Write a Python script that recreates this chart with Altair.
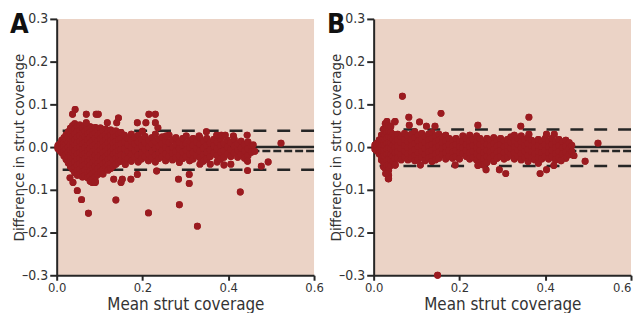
import altair as alt
import pandas as pd

# Panel A: columns of (mean strut coverage, [differences])
a_columns = [
    (0.003, [0.0, 0.004, -0.004]),
    (0.008, [0.008, 0.0, -0.009]),
    (0.012, [0.016, 0.006, -0.003, -0.013]),
    (0.017, [0.022, 0.011, 0.001, -0.010, -0.021]),
    (0.022, [0.029, 0.018, 0.006, -0.005, -0.017, -0.029]),
    (0.027, [0.036, 0.024, 0.012, 0.0, -0.012, -0.024, -0.037]),
    (0.032, [0.044, 0.031, 0.018, 0.006, -0.007, -0.020, -0.033, -0.046]),
    (0.037, [0.050, 0.038, 0.025, 0.012, -0.001, -0.014, -0.027, -0.040, -0.052]),
    (0.042, [0.055, 0.043, 0.030, 0.017, 0.004, -0.009, -0.022, -0.035, -0.048, -0.060]),
    (0.048, [0.048, 0.036, 0.023, 0.010, -0.003, -0.016, -0.029, -0.042, -0.055, -0.066]),
    (0.054, [0.052, 0.039, 0.026, 0.013, 0.0, -0.013, -0.026, -0.039, -0.052, -0.064]),
    (0.060, [0.045, 0.032, 0.020, 0.007, -0.006, -0.019, -0.032, -0.045, -0.058, -0.070]),
    (0.066, [0.050, 0.037, 0.024, 0.011, -0.002, -0.015, -0.028, -0.041, -0.054, -0.067]),
    (0.072, [0.043, 0.030, 0.017, 0.004, -0.009, -0.022, -0.035, -0.048, -0.060, -0.072]),
    (0.078, [0.048, 0.035, 0.022, 0.009, -0.004, -0.017, -0.030, -0.043, -0.056, -0.068, -0.080]),
    (0.084, [0.041, 0.028, 0.015, 0.002, -0.011, -0.024, -0.037, -0.050, -0.063, -0.075]),
    (0.090, [0.046, 0.033, 0.020, 0.007, -0.006, -0.019, -0.032, -0.045, -0.058, -0.070, -0.080]),
    (0.096, [0.040, 0.027, 0.014, 0.001, -0.012, -0.025, -0.038, -0.051, -0.064]),
    (0.102, [0.045, 0.032, 0.019, 0.006, -0.007, -0.020, -0.033, -0.046, -0.058]),
    (0.108, [0.038, 0.025, 0.012, -0.001, -0.014, -0.027, -0.040, -0.053, -0.063]),
    (0.114, [0.042, 0.029, 0.016, 0.003, -0.010, -0.023, -0.036, -0.049]),
    (0.120, [0.036, 0.023, 0.010, -0.003, -0.016, -0.029, -0.042, -0.054]),
    (0.126, [0.040, 0.027, 0.014, 0.001, -0.012, -0.025, -0.038, -0.050]),
    (0.132, [0.035, 0.022, 0.009, -0.004, -0.017, -0.030, -0.045]),
    (0.138, [0.038, 0.025, 0.012, -0.001, -0.014, -0.027, -0.040]),
    (0.144, [0.030, 0.017, 0.004, -0.009, -0.022, -0.035]),
    (0.150, [0.034, 0.020, 0.007, -0.006, -0.019, -0.032]),
    (0.158, [0.028, 0.012, -0.004, -0.020, -0.036]),
    (0.166, [0.020, 0.005, -0.011, -0.027]),
    (0.174, [0.030, 0.015, -0.001, -0.017, -0.033]),
    (0.182, [0.022, 0.007, -0.008, -0.024]),
    (0.190, [0.028, 0.012, -0.003, -0.019, -0.035]),
    (0.198, [0.018, 0.002, -0.014, -0.028]),
    (0.206, [0.025, 0.010, -0.006, -0.022]),
    (0.214, [0.016, 0.0, -0.016, -0.032]),
    (0.222, [0.022, 0.007, -0.009, -0.025]),
    (0.230, [0.030, 0.013, -0.003, -0.019, -0.035]),
    (0.238, [0.018, 0.002, -0.013, -0.027]),
    (0.246, [0.024, 0.008, -0.008, -0.022]),
    (0.254, [0.015, -0.001, -0.016, -0.032]),
    (0.262, [0.028, 0.010, -0.006, -0.022]),
    (0.270, [0.017, 0.0, -0.015, -0.030]),
    (0.278, [0.022, 0.006, -0.010, -0.025]),
    (0.286, [0.012, -0.004, -0.020, -0.036]),
    (0.294, [0.020, 0.004, -0.012, -0.027]),
    (0.302, [0.026, 0.008, -0.007, -0.022]),
    (0.310, [0.015, -0.001, -0.017, -0.032]),
    (0.318, [0.020, 0.004, -0.012, -0.028]),
    (0.326, [0.012, -0.004, -0.020]),
    (0.334, [0.022, 0.006, -0.009, -0.025, -0.040]),
    (0.342, [0.014, -0.002, -0.018, -0.033]),
    (0.350, [0.020, 0.004, -0.012, -0.028]),
    (0.358, [0.010, -0.006, -0.022, -0.040]),
    (0.366, [0.018, 0.002, -0.014]),
    (0.374, [0.012, -0.004, -0.020, -0.035]),
    (0.382, [0.020, 0.004, -0.012, -0.028]),
    (0.390, [0.008, -0.008, -0.024, -0.042]),
    (0.398, [0.016, 0.0, -0.016]),
    (0.406, [0.010, -0.006, -0.022, -0.040]),
    (0.414, [0.018, 0.002, -0.014]),
    (0.422, [0.008, -0.008, -0.024]),
    (0.430, [0.014, -0.002, -0.018]),
    (0.438, [0.006, -0.010, -0.026]),
    (0.446, [0.012, -0.004, -0.020]),
    (0.454, [0.004, -0.012]),
]

# Panel A: scattered points outside the dense band
a_out_mean = [0.043, 0.037, 0.069, 0.092, 0.097, 0.069, 0.118, 0.144, 0.140, 0.188,
              0.208, 0.215, 0.230, 0.230, 0.236, 0.200, 0.255, 0.349, 0.332, 0.373,
              0.384, 0.393, 0.412, 0.444, 0.523, 0.458, 0.462, 0.445, 0.445, 0.477,
              0.493, 0.428, 0.328, 0.286, 0.284, 0.309, 0.309, 0.214, 0.233, 0.173,
              0.188, 0.160, 0.138, 0.150, 0.153, 0.133, 0.074, 0.058, 0.048, 0.038,
              0.031, 0.083, 0.090]
a_out_diff = [0.088, 0.077, 0.077, 0.077, 0.077, 0.057, 0.057, 0.068, 0.057, 0.057,
              0.057, 0.077, 0.077, 0.057, 0.045, 0.037, 0.026, 0.036, 0.026, 0.028,
              0.028, 0.028, 0.026, 0.028, 0.009, 0.005, -0.010, -0.033, -0.055, -0.045,
              -0.035, -0.105, -0.185, -0.135, -0.075, -0.064, -0.085, -0.154, -0.056, -0.075,
              -0.064, -0.041, -0.124, -0.083, -0.075, -0.075, -0.155, -0.123, -0.102, -0.083,
              -0.072, -0.083, -0.083]

# Panel B: columns of (mean strut coverage, [differences])
b_columns = [
    (0.003, [0.0, 0.005, -0.005]),
    (0.008, [0.009, 0.0, -0.009]),
    (0.013, [0.017, 0.006, -0.005, -0.016]),
    (0.018, [0.028, 0.016, 0.004, -0.008, -0.020, -0.030]),
    (0.023, [0.042, 0.030, 0.017, 0.004, -0.009, -0.022, -0.035, -0.046]),
    (0.027, [0.055, 0.042, 0.029, 0.016, 0.003, -0.010, -0.023, -0.036, -0.050]),
    (0.031, [0.060, 0.047, 0.034, 0.021, 0.008, -0.005, -0.018, -0.031, -0.044, -0.056]),
    (0.035, [0.050, 0.037, 0.024, 0.011, -0.002, -0.015, -0.028, -0.041, -0.054, -0.066, -0.074]),
    (0.040, [0.048, 0.035, 0.022, 0.009, -0.004, -0.017, -0.030, -0.043]),
    (0.045, [0.030, 0.017, 0.004, -0.009, -0.022, -0.034]),
    (0.050, [0.025, 0.012, -0.001, -0.014, -0.027, -0.042]),
    (0.056, [0.030, 0.016, 0.002, -0.012, -0.026]),
    (0.064, [0.024, 0.010, -0.004, -0.018, -0.030]),
    (0.072, [0.032, 0.018, 0.004, -0.010, -0.024]),
    (0.080, [0.026, 0.012, -0.002, -0.016, -0.030]),
    (0.088, [0.030, 0.016, 0.002, -0.012, -0.026]),
    (0.096, [0.036, 0.022, 0.008, -0.006, -0.020, -0.032]),
    (0.104, [0.028, 0.014, 0.0, -0.014, -0.028]),
    (0.112, [0.032, 0.018, 0.004, -0.010, -0.024]),
    (0.120, [0.024, 0.010, -0.004, -0.018, -0.032]),
    (0.128, [0.030, 0.016, 0.002, -0.012, -0.026]),
    (0.136, [0.034, 0.020, 0.006, -0.008, -0.022, -0.034]),
    (0.144, [0.026, 0.012, -0.002, -0.016, -0.030]),
    (0.152, [0.030, 0.016, 0.002, -0.012, -0.026]),
    (0.160, [0.024, 0.010, -0.004, -0.018]),
    (0.168, [0.028, 0.014, 0.0, -0.014, -0.028]),
    (0.176, [0.020, 0.006, -0.008, -0.022]),
    (0.184, [0.016, 0.002, -0.012, -0.026]),
    (0.192, [0.020, 0.006, -0.008, -0.022]),
    (0.200, [0.014, 0.0, -0.014, -0.028]),
    (0.208, [0.026, 0.012, -0.002, -0.016]),
    (0.216, [0.020, 0.006, -0.008, -0.022]),
    (0.224, [0.028, 0.014, 0.0, -0.014, -0.028]),
    (0.232, [0.018, 0.004, -0.010, -0.024]),
    (0.240, [0.026, 0.012, -0.002, -0.016, -0.030]),
    (0.248, [0.020, 0.006, -0.008, -0.022, -0.036]),
    (0.256, [0.014, 0.0, -0.014, -0.028, -0.042]),
    (0.264, [0.020, 0.006, -0.008, -0.022, -0.036]),
    (0.272, [0.016, 0.002, -0.012, -0.026]),
    (0.280, [0.022, 0.008, -0.006, -0.020, -0.034]),
    (0.288, [0.016, 0.002, -0.012, -0.026]),
    (0.296, [0.020, 0.006, -0.008, -0.022]),
    (0.304, [0.014, 0.0, -0.014, -0.028]),
    (0.312, [0.018, 0.004, -0.010, -0.024]),
    (0.320, [0.024, 0.010, -0.004, -0.018]),
    (0.328, [0.028, 0.014, 0.0, -0.014, -0.028]),
    (0.336, [0.020, 0.006, -0.008, -0.022]),
    (0.344, [0.026, 0.012, -0.002, -0.016, -0.030]),
    (0.352, [0.018, 0.004, -0.010, -0.024]),
    (0.360, [0.022, 0.008, -0.006, -0.020, -0.034]),
    (0.368, [0.016, 0.002, -0.012, -0.026]),
    (0.376, [0.012, -0.002, -0.016, -0.030]),
    (0.384, [0.018, 0.004, -0.010, -0.024, -0.038]),
    (0.392, [0.014, 0.0, -0.014, -0.028]),
    (0.400, [0.020, 0.006, -0.008, -0.022]),
    (0.408, [0.014, 0.0, -0.014, -0.028]),
    (0.416, [0.020, 0.006, -0.008, -0.022]),
    (0.424, [0.012, -0.002, -0.016, -0.030]),
    (0.432, [0.018, 0.004, -0.010, -0.024]),
    (0.440, [0.012, -0.002, -0.016]),
    (0.448, [0.016, 0.002, -0.012, -0.026]),
    (0.456, [0.010, -0.004, -0.018]),
    (0.462, [0.004, -0.010]),
]

b_out_mean = [0.067, 0.082, 0.083, 0.157, 0.107, 0.123, 0.143, 0.049, 0.243, 0.362,
              0.343, 0.362, 0.149, 0.523, 0.467, 0.493, 0.388, 0.403, 0.420, 0.437,
              0.308, 0.293, 0.262, 0.243, 0.190, 0.109, 0.050, 0.034, 0.028, 0.403,
              0.421, 0.050]
b_out_diff = [0.119, 0.070, 0.051, 0.079, 0.059, 0.049, 0.049, 0.059, 0.051, 0.070,
              0.049, 0.030, -0.300, 0.009, -0.020, -0.033, -0.062, -0.053, -0.043, -0.032,
              -0.062, -0.053, -0.053, -0.043, -0.042, -0.042, -0.042, -0.074, -0.062, 0.030,
              0.030, 0.060]

# Reference lines: zero, mean difference, limits of agreement
a_lines = {"zero": 0.0, "mean": -0.009, "upper": 0.038, "lower": -0.053}
b_lines = {"zero": 0.0, "mean": -0.009, "upper": 0.041, "lower": -0.044}

panel_labels = ["A", "B"]
x_ticks = [0.0, 0.2, 0.4, 0.6]
y_ticks = [-0.3, -0.2, -0.1, 0.0, 0.1, 0.2, 0.3]

FONT = "DejaVu Sans Condensed, Liberation Sans Narrow, sans-serif"
RED = "#9b1b20"
INK = "#262626"
LABEL_EXPR = "(datum.value < -0.0001 ? '\u2013' : '') + format(abs(datum.value), '.1f')"

W = 259
H = 258


def points_frame(columns, out_mean, out_diff):
    rows = []
    for m, ds in columns:
        for d in ds:
            rows.append({"mean": m, "diff": d})
    for m, d in zip(out_mean, out_diff):
        rows.append({"mean": m, "diff": d})
    return pd.DataFrame(rows)


def panel(columns, out_mean, out_diff, lines, label, flush_last):
    df = points_frame(columns, out_mean, out_diff)
    x_axis_kw = dict(values=x_ticks, format=".1f", title="Mean strut coverage",
                     titleFontSize=17, titleX=W / 2, titleY=34,
                     titleBaseline="alphabetic", labelPadding=1, labelFlush=False,
                     labelFontSize=13, tickSize=5)
    if flush_last:
        x_axis_kw["labelAlign"] = {"condition": {"test": "datum.value >= 0.59",
                                                 "value": "right"},
                                   "value": "center"}
    x = alt.X("mean:Q", scale=alt.Scale(domain=[0, 0.6], nice=False),
              axis=alt.Axis(**x_axis_kw))
    y = alt.Y("diff:Q", scale=alt.Scale(domain=[-0.3, 0.3], nice=False),
              axis=alt.Axis(values=y_ticks, labelExpr=LABEL_EXPR,
                            title="Difference in strut coverage",
                            titleFontSize=15, titleX=-30, titleY=H / 2,
                            titleBaseline="bottom", titleAngle=270,
                            labelPadding=2, tickSize=7, labelFlush=False))
    pts = alt.Chart(df).mark_circle(size=48, color=RED, opacity=1, clip=False).encode(
        x=x, y=y)
    solid = alt.Chart(pd.DataFrame({"diff": [lines["zero"]]})).mark_rule(
        color=INK, strokeWidth=2.5).encode(y=y)
    short = alt.Chart(pd.DataFrame({"diff": [lines["mean"]]})).mark_rule(
        color=INK, strokeWidth=2.5, strokeDash=[8, 3]).encode(y=y)
    loa = alt.Chart(pd.DataFrame({"diff": [lines["upper"], lines["lower"]]})).mark_rule(
        color=INK, strokeWidth=2.5, strokeDash=[13, 11]).encode(y=y)
    lab = alt.Chart(pd.DataFrame({"t": [label]})).mark_text(
        font=FONT, fontSize=27, fontWeight="bold", color="#111", align="left",
        baseline="alphabetic").encode(text="t:N", x=alt.value(-47), y=alt.value(14))
    return alt.layer(pts, solid, short, loa, pts, lab).properties(width=W, height=H)


chart_a = panel(a_columns, a_out_mean, a_out_diff, a_lines, panel_labels[0], False)
chart_b = panel(b_columns, b_out_mean, b_out_diff, b_lines, panel_labels[1], True)

chart = alt.hconcat(chart_a, chart_b, spacing=3).properties(
    padding={"left": 2, "top": 2, "right": 0, "bottom": 0}
).configure_view(fill="#ebd3c6", strokeWidth=0).configure_axis(
    grid=False, domainColor=INK, domainWidth=2, tickColor=INK, tickWidth=2,
    tickSize=6, labelFont=FONT, titleFont=FONT, labelFontSize=14,
    labelColor="#333", titleColor="#333", titleFontWeight="normal"
)

chart.save("out.html", embed_options={"renderer": "svg", "actions": False})
